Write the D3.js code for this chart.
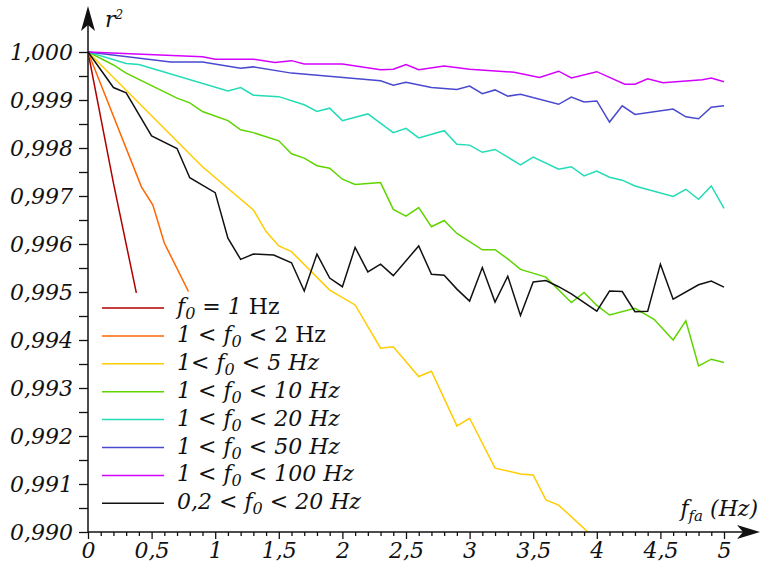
<!DOCTYPE html>
<html lang="fr">
<head>
<meta charset="UTF-8">
<title>r² en fonction de f_fa</title>
<script src="https://d3js.org/d3.v7.min.js"></script>
<style>
  body { margin: 0; background: #fff; }
  svg text { font-family: "DejaVu Serif", serif; fill: #111; white-space: pre; }
</style>
</head>
<body>
<div id="chart"></div>
<script>
// Data: [f_fa (Hz), r²]
const sRed = [[0, 1], [0.2, 0.99727], [0.38, 0.99498]];
const sOrange = [[0, 1], [0.42, 0.99719], [0.51, 0.99681], [0.6, 0.99602], [0.79, 0.99501]];
const sYellow = [[0, 1], [0.9, 0.99761], [1.3, 0.99671], [1.4, 0.99626], [1.5, 0.99596], [1.6, 0.99584],
  [1.9, 0.99504], [2.1, 0.99473], [2.3, 0.99383], [2.4, 0.99386], [2.6, 0.99324], [2.7, 0.99335],
  [2.9, 0.99221], [3.0, 0.99237], [3.2, 0.99133], [3.4, 0.99121], [3.5, 0.99119], [3.6, 0.99067],
  [3.7, 0.99056], [3.93, 0.99], [4.0, 0.98986]];
const sGreen = [[0, 1], [0.2, 0.99973], [0.3, 0.99956], [0.7, 0.99904], [0.8, 0.99894], [0.9, 0.99876],
  [1.1, 0.99857], [1.2, 0.99838], [1.3, 0.99832], [1.5, 0.99815], [1.6, 0.99788], [1.7, 0.99779],
  [1.8, 0.99763], [1.9, 0.99758], [2.0, 0.99735], [2.1, 0.99724], [2.3, 0.99728], [2.4, 0.99672],
  [2.5, 0.99658], [2.6, 0.99676], [2.7, 0.99636], [2.8, 0.99649], [2.9, 0.99622], [3.1, 0.99588],
  [3.2, 0.99588], [3.3, 0.99569], [3.4, 0.99547], [3.6, 0.99531], [3.8, 0.99478], [3.9, 0.99499],
  [4.0, 0.99472], [4.1, 0.99452], [4.3, 0.99466], [4.45, 0.99443], [4.6, 0.994], [4.7, 0.9944],
  [4.8, 0.99346], [4.9, 0.9936], [5.0, 0.99353]];
const sTeal = [[0, 1], [0.3, 0.99976], [0.4, 0.99974], [1.1, 0.99919], [1.2, 0.99926], [1.3, 0.9991],
  [1.5, 0.99907], [1.7, 0.9989], [1.8, 0.99876], [1.9, 0.99883], [2.0, 0.99857], [2.2, 0.99871],
  [2.4, 0.99832], [2.5, 0.99841], [2.6, 0.99821], [2.8, 0.99836], [2.9, 0.99808], [3.0, 0.99806],
  [3.1, 0.99791], [3.2, 0.99797], [3.3, 0.99781], [3.4, 0.99765], [3.5, 0.99781], [3.7, 0.99756],
  [3.8, 0.99761], [3.9, 0.99742], [4.0, 0.99752], [4.1, 0.99739], [4.2, 0.99733], [4.3, 0.99721],
  [4.6, 0.99699], [4.7, 0.99714], [4.8, 0.99693], [4.9, 0.99721], [5.0, 0.99674]];
const sBlue = [[0, 1], [0.65, 0.99979], [0.9, 0.99979], [1.2, 0.99966], [1.3, 0.99969], [1.6, 0.99956],
  [2.3, 0.9994], [2.4, 0.99931], [2.5, 0.99937], [2.7, 0.99926], [2.9, 0.99922], [3.0, 0.99929],
  [3.1, 0.99913], [3.2, 0.99921], [3.3, 0.99908], [3.4, 0.99912], [3.7, 0.99891], [3.8, 0.99906],
  [3.9, 0.99896], [4.0, 0.99898], [4.1, 0.99854], [4.2, 0.99888], [4.3, 0.9987], [4.6, 0.99881],
  [4.7, 0.99865], [4.8, 0.99861], [4.9, 0.99885], [5.0, 0.99888]];
const sMagenta = [[0, 1], [0.9, 0.9999], [1.0, 0.99985], [1.3, 0.99985], [1.47, 0.99978], [1.6, 0.99982],
  [1.7, 0.99975], [2.0, 0.99975], [2.3, 0.99963], [2.4, 0.99964], [2.5, 0.99974], [2.6, 0.99963],
  [2.8, 0.99971], [3.0, 0.99964], [3.35, 0.99958], [3.55, 0.99947], [3.7, 0.9996], [3.8, 0.99946],
  [4.0, 0.99959], [4.22, 0.99933], [4.3, 0.99933], [4.4, 0.99944], [4.52, 0.99936], [4.83, 0.99942],
  [4.9, 0.99946], [5.0, 0.99938]];
const sBlack = [[0, 1], [0.2, 0.99926], [0.3, 0.99915], [0.5, 0.99825], [0.7, 0.99799], [0.8, 0.99738],
  [1.0, 0.99707], [1.1, 0.99612], [1.2, 0.99568], [1.3, 0.99579], [1.46, 0.99577], [1.6, 0.99561],
  [1.7, 0.99502], [1.8, 0.99579], [1.9, 0.99529], [2.0, 0.99511], [2.1, 0.99593], [2.2, 0.99542],
  [2.3, 0.99558], [2.4, 0.99534], [2.6, 0.99596], [2.7, 0.99537], [2.8, 0.99535], [2.9, 0.99506],
  [3.0, 0.99481], [3.1, 0.99551], [3.2, 0.99479], [3.3, 0.99533], [3.4, 0.99451], [3.5, 0.99521],
  [3.6, 0.99524], [3.7, 0.99511], [3.8, 0.99496], [4.0, 0.9946], [4.1, 0.99502], [4.2, 0.99501],
  [4.3, 0.99459], [4.4, 0.9946], [4.5, 0.99558], [4.6, 0.99485], [4.8, 0.99515], [4.9, 0.99523],
  [5.0, 0.9951]];

const series = [sRed, sOrange, sYellow, sGreen, sTeal, sBlue, sMagenta, sBlack];
const colors = ["#b00000", "#ff6600", "#ffcc00", "#5fd400", "#22dcb6", "#4848d0", "#d400ff", "#111111"];

// legend text pieces: [text, style]  i = italic, n = upright, s = subscript
const legendLabels = [
  [["f", "i"], ["0", "s"], [" = 1 ", "i"], ["Hz", "n"]],
  [["1 < ", "i"], ["f", "i"], ["0", "s"], [" < ", "i"], ["2 Hz", "n"]],
  [["1< ", "i"], ["f", "i"], ["0", "s"], [" < 5 Hz", "i"]],
  [["1 < ", "i"], ["f", "i"], ["0", "s"], [" < 10 Hz", "i"]],
  [["1 < ", "i"], ["f", "i"], ["0", "s"], [" < 20 Hz", "i"]],
  [["1 < ", "i"], ["f", "i"], ["0", "s"], [" < 50 Hz", "i"]],
  [["1 < ", "i"], ["f", "i"], ["0", "s"], [" < 100 Hz", "i"]],
  [["0,2 < ", "i"], ["f", "i"], ["0", "s"], [" < 20 Hz", "i"]]
];

const yMajor = [0.990, 0.991, 0.992, 0.993, 0.994, 0.995, 0.996, 0.997, 0.998, 0.999, 1.000];
const xMajor = [0, 0.5, 1, 1.5, 2, 2.5, 3, 3.5, 4, 4.5, 5];

const W = 763, H = 566;
const x0 = 88, x1 = 724, yTop = 52, yBot = 532;

const svg = d3.select("#chart").append("svg")
  .attr("width", W).attr("height", H);

const x = d3.scaleLinear().domain([0, 5]).range([x0, x1]);
const y = d3.scaleLinear().domain([0.990, 1.000]).range([yBot, yTop]);

const fr = d3.formatLocale({ decimal: ",", thousands: ".", grouping: [3], currency: ["", ""] });

svg.append("clipPath").attr("id", "clip")
  .append("rect").attr("x", x0).attr("y", 0).attr("width", W - x0).attr("height", yBot);

// series lines
const line = d3.line().x(d => x(d[0])).y(d => y(d[1]));
svg.append("g").attr("clip-path", "url(#clip)")
  .selectAll("path").data(series).join("path")
  .attr("d", line)
  .attr("fill", "none")
  .attr("stroke", (d, i) => colors[i])
  .attr("stroke-width", 1.5)
  .attr("stroke-linejoin", "miter");

// y axis: ticks
const yMinor = d3.range(0.9905, 1.0, 0.001);
svg.append("g").attr("transform", `translate(${x0},0)`)
  .call(d3.axisLeft(y).tickValues(yMinor).tickSize(9).tickFormat(""))
  .call(g => g.select(".domain").remove());
svg.append("g").attr("transform", `translate(${x0},0)`)
  .call(d3.axisLeft(y).tickValues(yMajor).tickSize(9).tickPadding(6).tickFormat(fr.format(".3f")))
  .call(g => g.select(".domain").remove())
  .call(g => g.selectAll("text").style("font-size", "22px").style("font-style", "italic").attr("dy", "0.36em"));

// x axis: ticks
const xMinor = d3.range(1, 51).filter(k => k % 5 !== 0).map(k => k / 10);
svg.append("g").attr("transform", `translate(0,${yBot})`)
  .call(d3.axisBottom(x).tickValues(xMinor).tickSize(4).tickFormat(""))
  .call(g => g.select(".domain").remove());
svg.append("g").attr("transform", `translate(0,${yBot})`)
  .call(d3.axisBottom(x).tickValues(xMajor).tickSize(7).tickPadding(3).tickFormat(fr.format(".1~f")))
  .call(g => g.select(".domain").remove())
  .call(g => g.selectAll("text").style("font-size", "22px").style("font-style", "italic"));

svg.selectAll(".tick line").attr("stroke", "#111").attr("stroke-width", 1.3);

// axis lines with arrowheads
svg.append("line").attr("x1", x0).attr("x2", x0).attr("y1", yBot).attr("y2", 12)
  .attr("stroke", "#111").attr("stroke-width", 1.5);
svg.append("line").attr("x1", x0).attr("x2", 752).attr("y1", yBot).attr("y2", yBot)
  .attr("stroke", "#111").attr("stroke-width", 1.5);
svg.append("path")
  .attr("d", `M${x0},6 L${x0 + 7},31 L${x0},25 L${x0 - 7},31 Z`).attr("fill", "#111");
svg.append("path")
  .attr("d", `M760,${yBot} L737,${yBot - 7} L743,${yBot} L737,${yBot + 7} Z`).attr("fill", "#111");

// axis titles
const rt = svg.append("text").attr("x", 105).attr("y", 27).style("font-size", "22px").style("font-style", "italic");
rt.append("tspan").text("r");
rt.append("tspan").attr("dy", -8).style("font-size", "12px").text("2");

const xt = svg.append("text").attr("x", 758).attr("y", 516).attr("text-anchor", "end")
  .style("font-size", "22px").style("font-style", "italic");
xt.append("tspan").text("f");
xt.append("tspan").attr("dy", 5).style("font-size", "15px").text("fa");
xt.append("tspan").attr("dy", -5).text(" (Hz)");

// legend
const legend = svg.append("g");
const rowY = i => 308 + i * 27.9;
legend.selectAll("line").data(colors).join("line")
  .attr("x1", 102).attr("x2", 164)
  .attr("y1", (d, i) => rowY(i)).attr("y2", (d, i) => rowY(i))
  .attr("stroke", d => d).attr("stroke-width", 1.5);

legendLabels.forEach((parts, i) => {
  const t = legend.append("text").attr("x", 177).attr("y", rowY(i) + 6).style("font-size", "22px");
  let shifted = false;
  parts.forEach(([txt, st]) => {
    const ts = t.append("tspan").text(txt).style("font-style", st === "n" ? "normal" : "italic");
    if (st === "s") {
      ts.attr("dy", 5).style("font-size", "16px");
      shifted = true;
    } else if (shifted) {
      ts.attr("dy", -5);
      shifted = false;
    }
  });
});
</script>
</body>
</html>
